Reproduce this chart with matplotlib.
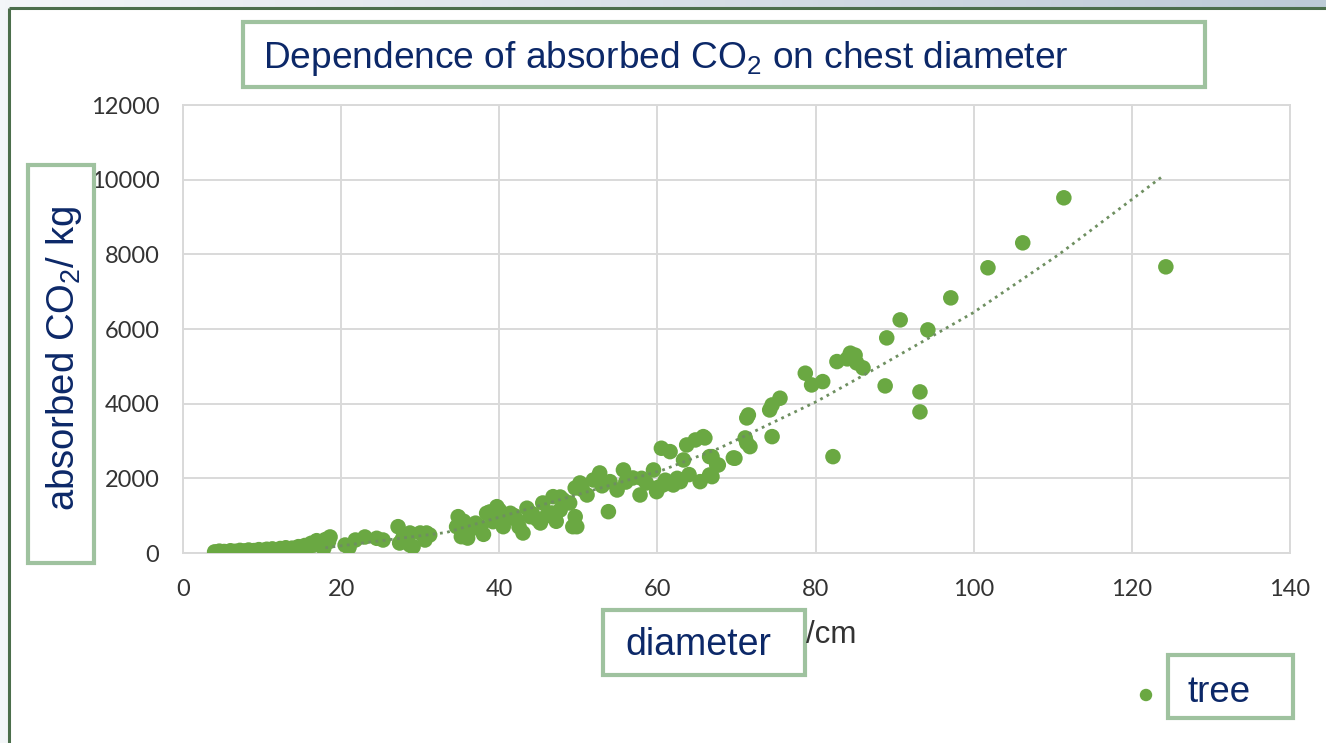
import numpy as np
import matplotlib.pyplot as plt
from matplotlib.patches import Rectangle
from matplotlib.colors import LinearSegmentedColormap

plt.rcParams['mathtext.fontset'] = 'custom'
plt.rcParams['mathtext.rm'] = 'Liberation Sans'
plt.rcParams['mathtext.it'] = 'Liberation Sans:italic'

# diameter (cm) / absorbed CO2 (kg)
diameter = [4.0, 4.3, 4.6, 5.0, 5.2, 5.5, 5.8, 6.0, 6.3, 6.6, 7.0, 7.2, 7.5, 7.8, 8.0,
            8.3, 8.6, 9.0, 9.3, 9.6, 10.0, 10.3, 10.6, 11.0, 11.3, 11.6, 12.0, 12.3, 12.7,
            13.0, 13.4, 13.8, 14.2, 14.6, 15.0, 15.4, 15.8, 16.2, 16.5, 16.9, 17.2, 17.6,
            18.0, 18.4, 18.6, 17.8,
            20.5, 21.0, 21.8, 23.0, 24.5, 25.3, 27.2, 27.4, 27.8, 28.7, 29.1, 28.7, 30.0,
            30.8, 30.6, 31.2,
            34.8, 34.6, 35.2, 36.3, 37.6, 38.4, 39.7, 39.2, 40.5, 41.4, 42.2, 43.0, 43.9,
            45.2, 45.5, 46.8, 46.6, 47.7, 48.1, 35.5, 36.0, 38.0, 39.5, 40.0, 40.8, 41.9,
            42.5, 44.2, 44.8, 46.0, 47.2, 37.0, 38.8, 43.5,
            48.9, 49.6, 49.8, 49.6, 50.2, 51.1, 51.9, 52.7, 53.8, 54.0, 54.9, 55.7, 56.9,
            57.8, 58.6, 59.5, 59.9, 60.7, 62.0, 62.9, 63.3, 65.4, 66.9, 60.5, 61.6, 63.7,
            64.8, 65.8, 66.6, 67.5, 69.6, 71.3, 50.5, 53.0, 56.0, 58.0, 61.0, 64.0, 62.5,
            60.0, 48.1, 47.7, 49.3,
            78.7, 79.5, 80.9, 82.7, 84.4, 85.2, 86.0, 75.5, 74.5, 74.2, 71.5, 71.3, 74.5,
            71.1, 71.7, 66.0, 66.9, 67.7, 69.8, 66.6, 82.2, 84.0, 85.0,
            88.8, 89.0, 90.7, 93.2, 93.2, 94.2, 97.1, 101.8, 106.2, 111.4, 124.3]
co2 = [30, 20, 50, 15, 40, 25, 35, 60, 20, 45, 30, 70, 40, 55, 25,
       80, 50, 65, 35, 90, 55, 75, 100, 60, 110, 85, 70, 120, 95,
       140, 80, 130, 110, 170, 140, 200, 160, 260, 210, 330, 280, 190,
       360, 300, 430, 120,
       214, 150, 348, 429, 394, 348, 705, 268, 402, 214, 169, 536, 536,
       536, 348, 482,
       973, 705, 437, 616, 705, 1064, 1241, 839, 705, 1064, 884, 536, 973,
       804, 1340, 1509, 1072, 1152, 1420, 850, 400, 500, 1000, 1150, 900, 1000,
       700, 1050, 900, 1000, 850, 800, 1100, 1200,
       1340, 973, 705, 1742, 1876, 1554, 1956, 2144, 1107, 1911, 1688, 2224, 2010,
       1554, 1876, 2224, 1643, 1822, 1822, 1911, 2492, 1911, 2045, 2806, 2715, 2894,
       3028, 3117, 2581, 2358, 2546, 2948, 1700, 1800, 1900, 2000, 1950, 2100, 2000,
       1750, 1340, 1500, 705,
       4816, 4502, 4591, 5127, 5352, 5092, 4958, 4146, 3966, 3832, 3698, 3618, 3117,
       3082, 2849, 3082, 2581, 2358, 2538, 2090, 2581, 5200, 5300,
       4476, 5762, 6244, 4315, 3779, 5976, 6834, 7640, 8308, 9514, 7665]

# dotted trend line
trend_x = [18.0, 33.3, 60.7, 67.9, 80.1, 86.6, 99.9, 110.7, 123.8]
trend_y = [140, 550, 2224, 2814, 4055, 4824, 6432, 7986, 10077]

xticks = [0, 20, 40, 60, 80, 100, 120, 140]
yticks = [0, 2000, 4000, 6000, 8000, 10000, 12000]

navy = '#0c2868'
box_edge = '#9fc29f'
green = '#6aa842'

fig = plt.figure(figsize=(13.26, 7.43), dpi=100)

# slide background
bg = fig.add_axes([0, 0, 1, 1], zorder=0)
bg.set_xlim(0, 1326)
bg.set_ylim(743, 0)
bg.axis('off')
cmap = LinearSegmentedColormap.from_list('bg', ['#f3f6f8', '#bccad6'])
bg.imshow(np.linspace(0, 1, 256).reshape(1, -1), extent=[0, 1326, 743, 0],
          cmap=cmap, aspect='auto')
bg.add_patch(Rectangle((9, 8), 1317, 735, fc='white', ec='none'))
bg.plot([9, 1326], [8, 8], color='#4b6e4b', lw=2.2, solid_capstyle='butt')
bg.plot([9, 9], [8, 743], color='#4b6e4b', lw=2.2, solid_capstyle='butt')

# chart
ax = fig.add_axes([183 / 1326, 1 - 553 / 743, 1107 / 1326, 448 / 743], zorder=1)
ax.set_facecolor('white')
ax.scatter(diameter, co2, s=125, color=green, edgecolors='none', zorder=3)
ax.plot(trend_x, trend_y, color='#6e8f60', lw=2, linestyle=(0, (1, 1.6)), zorder=4)
ax.set_xlim(0, 140)
ax.set_ylim(0, 12000)
ax.set_xticks(xticks)
ax.set_yticks(yticks)
ax.grid(True, color='#d9d9d9', lw=1.4, zorder=0)
ax.set_axisbelow(True)
for s in ax.spines.values():
    s.set_color('#d9d9d9')
    s.set_linewidth(1.4)
ax.tick_params(length=0, labelsize=17, labelcolor='#333333')
ax.tick_params(axis='y', pad=17)
ax.tick_params(axis='x', pad=19)
for lab in ax.get_xticklabels() + ax.get_yticklabels():
    lab.set_family('Lato')

# text boxes on top
ov = fig.add_axes([0, 0, 1, 1], zorder=3)
ov.set_xlim(0, 1326)
ov.set_ylim(743, 0)
ov.axis('off')
ov.patch.set_alpha(0)

ov.text(806, 643, '/cm', fontsize=22.5, color='#333333', family='Liberation Sans',
        ha='left', va='baseline')

boxes = [(243, 22, 962, 65), (28, 165, 66, 398), (603, 610, 202, 65), (1168, 655, 125, 63)]
for bx, by, bw, bh in boxes:
    ov.add_patch(Rectangle((bx, by), bw, bh, fc='white', ec=box_edge, lw=3, zorder=2))

ov.text(263, 68, 'Dependence of absorbed CO$_2$ on chest diameter', fontsize=26.7,
        color=navy, family='Liberation Sans', ha='left', va='baseline', zorder=3)
ov.text(64, 358, 'absorbed CO$_2$/ kg', fontsize=27.5, color=navy, rotation=90,
        family='Liberation Sans', ha='center', va='center', zorder=3)
ov.text(625, 655, 'diameter', fontsize=27, color=navy, family='Liberation Sans',
        ha='left', va='baseline', zorder=3)
ov.text(1188, 702, 'tree', fontsize=26.5, color=navy, family='Liberation Sans',
        ha='left', va='baseline', zorder=3)
ov.scatter([1146], [695], s=80, color=green, edgecolors='none', zorder=3)

fig.savefig('out.png', dpi=100)
